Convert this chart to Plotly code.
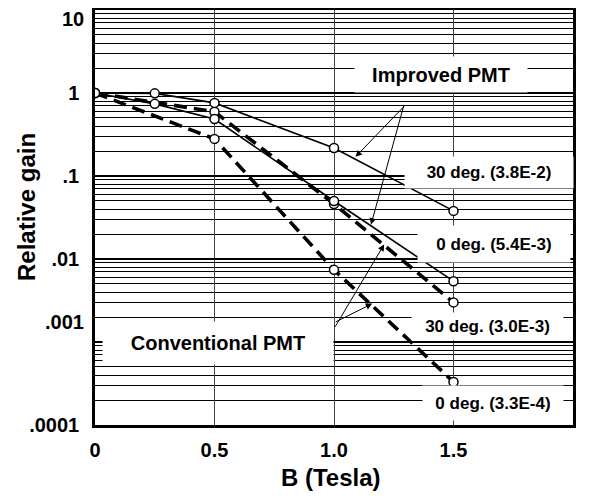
import plotly.graph_objects as go
import math

# ---------------- data ----------------
b_improved = [0, 0.25, 0.5, 1.0, 1.5]
gain_improved_30 = [1.0, 0.99, 0.76, 0.217, 0.038]
gain_improved_0 = [1.0, 0.74, 0.486, 0.050, 0.0054]

b_conventional = [0, 0.5, 1.0, 1.5]
gain_conventional_30 = [1.0, 0.595, 0.046, 0.0030]
gain_conventional_0 = [1.0, 0.28, 0.0074, 0.00033]

x_tick_vals = [0, 0.5, 1.0, 1.5]
x_tick_text = ["0", "0.5", "1.0", "1.5"]
y_tick_vals = [1e-4, 1e-3, 1e-2, 1e-1, 1, 10]
y_tick_text = [".0001", ".001", ".01", ".1", "1", "10"]

x_title = "B (Tesla)"
y_title = "Relative gain"

labels = ["Improved PMT", "30 deg. (3.8E-2)", "0 deg. (5.4E-3)",
          "30 deg. (3.0E-3)", "0 deg. (3.3E-4)", "Conventional PMT"]

# ---------------- layout helpers ----------------
# page has an 8px body margin: figure coords = screen coords - 8
OFF = 8
W, H = 590 - OFF, 504 - OFF
# plot area in screen pixels
L, R, T, B = 95, 573, 10, 425


def px(xp):
    return (xp - L) / (R - L)


def py(yp):
    return (B - yp) / (B - T)


FONT = "Liberation Sans, Arial, Helvetica, sans-serif"

fig = go.Figure()

solid = dict(color="black", width=1.6)
dashed = dict(color="black", width=3.6, dash="13px,7px")
marker = dict(symbol="circle", size=9, color="white", line=dict(color="black", width=1.5))

fig.add_trace(go.Scatter(x=b_conventional, y=gain_conventional_0, mode="lines+markers",
                         line=dashed, marker=marker, showlegend=False))
fig.add_trace(go.Scatter(x=b_conventional, y=gain_conventional_30, mode="lines+markers",
                         line=dashed, marker=marker, showlegend=False))
fig.add_trace(go.Scatter(x=b_improved, y=gain_improved_0, mode="lines+markers",
                         line=solid, marker=marker, showlegend=False))
fig.add_trace(go.Scatter(x=b_improved, y=gain_improved_30, mode="lines+markers",
                         line=solid, marker=marker, showlegend=False))

# label boxes: (x0, y0, x1, y1) in screen pixels, font size
boxes = [
    (355, 57, 527, 92, 20),
    (405, 157, 573, 188, 17),
    (418, 226, 570, 262, 17),
    (412, 313, 563, 340, 17),
    (423, 386, 563, 420, 17),
    (103, 322, 333, 364, 20),
]
annotations = []
for text, (x0, y0, x1, y1, s) in zip(labels, boxes):
    annotations.append(dict(text=text, xref="paper", yref="paper",
                            x=px((x0 + x1) / 2), y=py((y0 + y1) / 2),
                            width=x1 - x0, height=y1 - y0, bgcolor="white", borderpad=0,
                            showarrow=False, xanchor="center", yanchor="middle", align="center",
                            font=dict(family=FONT, size=s, color="black", weight="bold")))

# arrows (target in data coordinates, tail as pixel offsets)
arrows = [
    (1.09, math.log10(0.17), 50, -52),
    (1.155, math.log10(0.026), 33, -120),
    (1.21, math.log10(0.015), -50, 84),
    (1.16, math.log10(0.0029), -38, 19),
]
for x, y, ax, ay in arrows:
    annotations.append(dict(x=x, y=y, xref="x", yref="y", ax=ax, ay=ay, text="",
                            showarrow=True, arrowhead=2, arrowsize=1.3, arrowwidth=1,
                            arrowcolor="black", standoff=0))

# ".001" and "10" tick labels are slightly displaced in the reference
for idx, yshift in ((1, 20), (5, -9)):
    annotations.append(dict(text=y_tick_text[idx], xref="paper", yref="y", x=0,
                            y=math.log10(y_tick_vals[idx]),
                            xanchor="right", yanchor="middle", xshift=-9, yshift=yshift,
                            showarrow=False,
                            font=dict(family=FONT, size=20, color="black", weight="bold")))
y_tick_text_axis = [t if i not in (1, 5) else "" for i, t in enumerate(y_tick_text)]

# axis titles
annotations.append(dict(text=x_title, xref="paper", yref="paper", x=px(331), y=py(477),
                        xanchor="center", yanchor="middle", showarrow=False,
                        font=dict(family=FONT, size=24, color="black", weight="bold")))
annotations.append(dict(text=y_title, xref="paper", yref="paper", x=px(26), y=py(207),
                        xanchor="center", yanchor="middle", showarrow=False, textangle=-90,
                        font=dict(family=FONT, size=24, color="black", weight="bold")))

fig.update_layout(
    width=W, height=H,
    margin=dict(l=L - OFF, r=W - (R - OFF), t=T - OFF, b=H - (B - OFF), autoexpand=False),
    paper_bgcolor="white", plot_bgcolor="white",
    font=dict(family=FONT, color="black"),
    annotations=annotations,
    xaxis=dict(range=[0, 2], tickvals=x_tick_vals, ticktext=x_tick_text, automargin=False,
               showgrid=True, gridcolor="#444444", gridwidth=1.3, zeroline=False,
               showline=True, linecolor="black", linewidth=2.5, mirror=True,
               ticks="", ticklabelstandoff=5,
               tickfont=dict(family=FONT, size=20, weight="bold")),
    xaxis2=dict(range=[0, 2], overlaying="x", side="top", showgrid=False, zeroline=False,
                ticks="inside", ticklen=4, tickwidth=1.3, tickcolor="black", automargin=False,
                tick0=0, dtick=0.1, showticklabels=False),
    yaxis=dict(type="log", range=[-4, 1], tickvals=y_tick_vals, ticktext=y_tick_text_axis,
               automargin=False,
               showgrid=True, gridcolor="black", gridwidth=2.2, zeroline=False,
               showline=True, linecolor="black", linewidth=2.5, mirror=True,
               ticks="", ticklabelstandoff=9,
               minor=dict(dtick="D1", showgrid=True, gridcolor="black", gridwidth=1.3, ticks=""),
               tickfont=dict(family=FONT, size=20, weight="bold")),
)

fig.write_html("out.html")
